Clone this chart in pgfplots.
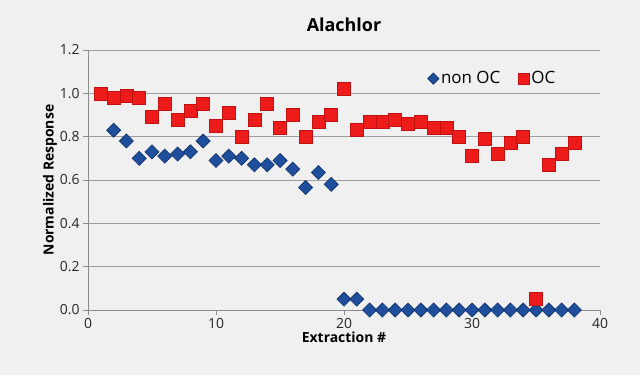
\documentclass[border=0pt]{standalone}
\usepackage{pgfplots}
\pgfplotsset{compat=1.18}
\usepackage{fontspec}
\setmainfont{Open Sans}
\setsansfont{Open Sans}
\definecolor{bg}{HTML}{F0F0F0}
\definecolor{bluem}{HTML}{1F4F9C}
\definecolor{bluee}{HTML}{0F2F66}
\definecolor{redm}{HTML}{EE1B1B}
\definecolor{rede}{HTML}{C01010}
\definecolor{gridc}{HTML}{8C8C8C}
\begin{document}
\begin{tikzpicture}[x=1bp,y=1bp]
\fill[bg] (0,0) rectangle (640,375);
\path[use as bounding box] (0,0) rectangle (640,375);
\node[font=\fontsize{18}{20}\selectfont\bfseries] at (344,350) {Alachlor};
\begin{axis}[
  at={(88bp,65bp)}, anchor=south west,
  scale only axis, width=512bp, height=260bp,
  xmin=0, xmax=40, ymin=0, ymax=1.2,
  xtick={0,10,20,30,40},
  ytick={0,0.2,0.4,0.6,0.8,1.0,1.2},
  yticklabel style={/pgf/number format/.cd,fixed,fixed zerofill,precision=1},
  /pgf/number format/assume math mode=true,
  axis x line=bottom, axis y line=left,
  axis line style={gridc,-},
  ymajorgrids, grid style={gridc!85, line width=0.8pt},
  tick style={gridc, line width=0.6pt},
  tick align=outside, major tick length=5bp,
  ticklabel style={font=\fontsize{14}{16}\selectfont, text=black!85},
  xlabel={\bfseries Extraction \#},
  ylabel={\bfseries Normalized Response},
  label style={font=\fontsize{14}{16}\selectfont\bfseries},
  xlabel style={yshift=4bp},
  ylabel style={yshift=-4bp},
  legend style={at={(0.79,0.89)}, anchor=center, draw=none, fill=none,
    font=\fontsize{17}{19}\selectfont, legend columns=2,
    /tikz/every even column/.append style={column sep=16bp},
    /tikz/every odd column/.append style={column sep=0bp}},
  legend cell align=left,
  clip=false,
]
\addplot[only marks, mark=square*, mark size=5bp, mark options={rotate=45, fill=bluem, draw=bluee, line width=0.6pt}, forget plot]
coordinates {
(2,0.83)(3,0.78)(4,0.70)(5,0.73)(6,0.71)(7,0.72)(8,0.73)(9,0.78)(10,0.69)
(11,0.71)(12,0.70)(13,0.67)(14,0.67)(15,0.69)(16,0.65)(17,0.565)(18,0.635)(19,0.58)
(20,0.05)(21,0.05)(22,0)(23,0)(24,0)(25,0)(26,0)(27,0)(28,0)(29,0)(30,0)
(31,0)(32,0)(33,0)(34,0)(35,0)(36,0)(37,0)(38,0)};
\addplot[only marks, mark=square*, mark size=6.5bp, mark options={fill=redm, draw=rede, line width=0.5pt}, forget plot]
coordinates {
(1,1.00)(2,0.98)(3,0.99)(4,0.98)(5,0.89)(6,0.95)(7,0.88)(8,0.92)(9,0.95)(10,0.85)
(11,0.91)(12,0.80)(13,0.88)(14,0.95)(15,0.84)(16,0.90)(17,0.80)(18,0.87)(19,0.90)
(20,1.02)(21,0.83)(22,0.87)(23,0.87)(24,0.88)(25,0.86)(26,0.87)(27,0.84)(28,0.84)
(29,0.80)(30,0.71)(31,0.79)(32,0.72)(33,0.77)(34,0.80)(35,0.05)(36,0.67)(37,0.72)(38,0.77)};
\addlegendimage{only marks, mark=square*, mark size=4bp, mark options={rotate=45, fill=bluem, draw=bluee, line width=0.6pt}}
\addlegendentry{non OC}
\addlegendimage{only marks, mark=square*, mark size=5.5bp, mark options={fill=redm, draw=rede, line width=0.5pt}}
\addlegendentry{OC}
\end{axis}
\end{tikzpicture}
\end{document}
